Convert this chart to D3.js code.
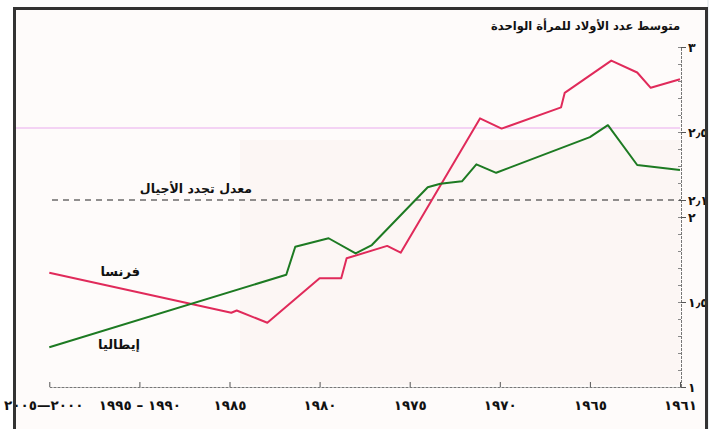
<!DOCTYPE html>
<html>
<head>
<meta charset="utf-8">
<script src="https://cdn.jsdelivr.net/npm/d3@7"></script>
<style>
  html, body { margin: 0; padding: 0; background: #fff; }
  svg { display: block; }
  text { font-family: "DejaVu Sans", sans-serif; }
</style>
</head>
<body>
<svg width="709" height="429"></svg>
<script>
// tick years on the x axis (right to left) and their labels
const tickYears = [1961, 1965, 1970, 1975, 1980, 1985, 1990, 2000];
const tickLabels = ['١٩٦١', '١٩٦٥', '١٩٧٠', '١٩٧٥', '١٩٨٠', '١٩٨٥', '١٩٩٠ – ١٩٩٥', '٢٠٠٠—٢٠٠٥'];

const yTicks = [1, 1.5, 2, 2.1, 2.5, 3];
const yLabels = ['١', '١٫٥', '٢', '٢٫١', '٢٫٥', '٣'];

// France: fertility rate by year
const franceYears = [1961, 1962.3, 1962.9, 1964.05, 1966.4, 1966.6, 1969.9, 1971.1, 1975.5, 1976.25, 1978.5, 1978.8, 1980, 1982.9, 1984.6, 1984.9, 2000];
const franceValues = [2.81, 2.76, 2.85, 2.92, 2.73, 2.645, 2.52, 2.58, 1.79, 1.83, 1.757, 1.64, 1.64, 1.378, 1.45, 1.437, 1.672];

// Italy
const italyYears = [1961, 1962.9, 1964.2, 1965, 1970.2, 1971.3, 1972.1, 1973.3, 1974, 1977.1, 1978, 1979.5, 1981.35, 1981.85, 2000];
const italyValues = [2.276, 2.306, 2.54, 2.47, 2.26, 2.31, 2.21, 2.196, 2.175, 1.835, 1.786, 1.875, 1.825, 1.66, 1.234];

const replacement = 2.1;

const svg = d3.select('svg');

// page + plot background
svg.append('rect').attr('width', 709).attr('height', 429).attr('fill', '#ffffff');
svg.append('rect').attr('x', 15).attr('y', 9).attr('width', 691).attr('height', 420).attr('fill', '#fefbfa');
svg.append('rect').attr('x', 240).attr('y', 140).attr('width', 440).attr('height', 245).attr('fill', '#fcf6f4');

// x is piecewise: every label gets the same width, whatever the years between
const x = d3.scaleLinear()
  .domain(tickYears)
  .range(tickYears.map((d, i) => 680 - i * 90.1));

const y = d3.scaleLinear().domain([1, 3]).range([387, 47]);

// faint pink stripe that runs across the scan
svg.append('line')
  .attr('x1', 15).attr('x2', 680)
  .attr('y1', 128).attr('y2', 128)
  .attr('stroke', '#e9a3ee').attr('stroke-width', 1.5).attr('opacity', 0.6);

// x axis
const xAxis = svg.append('g')
  .attr('transform', `translate(0,${y(1)})`)
  .call(d3.axisBottom(x)
    .tickValues(tickYears)
    .tickSizeInner(-5)
    .tickSizeOuter(0)
    .tickPadding(18)
    .tickFormat((d, i) => tickLabels[i]));
xAxis.select('.domain').attr('stroke', '#777').attr('stroke-dasharray', '3,1');
xAxis.selectAll('.tick line').attr('stroke', '#555');
xAxis.selectAll('.tick text')
  .attr('fill', '#111')
  .attr('font-size', 13.5)
  .attr('font-weight', 'bold')
  .attr('direction', 'rtl')
  .attr('dy', '0.35em');
// the last label runs off the left edge of the page
xAxis.selectAll('.tick text').filter(d => d === 2000).attr('dx', -6);

// y axis: minor ticks to the left, major ticks + labels to the right
const minor = d3.range(10, 31).map(d => d / 10);
const yMinor = svg.append('g')
  .attr('transform', `translate(681,0)`)
  .call(d3.axisLeft(y).tickValues(minor).tickSize(3).tickFormat(''));
yMinor.select('.domain').attr('stroke', '#777').attr('stroke-dasharray', '3,1');
yMinor.selectAll('.tick line').attr('stroke', '#888');

const yAxis = svg.append('g')
  .attr('transform', `translate(681,0)`)
  .call(d3.axisRight(y)
    .tickValues(yTicks)
    .tickSizeInner(5)
    .tickSizeOuter(0)
    .tickPadding(2)
    .tickFormat((d, i) => yLabels[i]));
yAxis.select('.domain').remove();
yAxis.selectAll('.tick line').attr('stroke', '#555');
yAxis.selectAll('.tick text')
  .attr('fill', '#111')
  .attr('font-size', 12.5)
  .attr('font-weight', 'bold');

// replacement level
svg.append('line')
  .attr('x1', 52).attr('x2', 681)
  .attr('y1', y(replacement)).attr('y2', y(replacement))
  .attr('stroke', '#222').attr('stroke-width', 1)
  .attr('stroke-dasharray', '6,5');

svg.append('text')
  .attr('x', 252).attr('y', y(replacement) - 7)
  .attr('text-anchor', 'start')
  .attr('direction', 'rtl')
  .attr('font-size', 12.5)
  .attr('font-weight', 'bold')
  .attr('fill', '#111')
  .text('معدل تجدد الأجيال');

// series lines
const line = d3.line()
  .x(d => x(d[0]))
  .y(d => y(d[1]));

svg.append('path')
  .datum(franceYears.map((d, i) => [d, franceValues[i]]))
  .attr('d', line)
  .attr('fill', 'none')
  .attr('stroke', '#e02a5a')
  .attr('stroke-width', 2)
  .attr('stroke-linejoin', 'round');

svg.append('path')
  .datum(italyYears.map((d, i) => [d, italyValues[i]]))
  .attr('d', line)
  .attr('fill', 'none')
  .attr('stroke', '#1d7a22')
  .attr('stroke-width', 2)
  .attr('stroke-linejoin', 'round');

// series labels
svg.append('text')
  .attr('x', 140).attr('y', 276)
  .attr('text-anchor', 'start')
  .attr('direction', 'rtl')
  .attr('font-size', 13)
  .attr('font-weight', 'bold')
  .attr('fill', '#111')
  .text('فرنسا');

svg.append('text')
  .attr('x', 140).attr('y', 349)
  .attr('text-anchor', 'start')
  .attr('direction', 'rtl')
  .attr('font-size', 13)
  .attr('font-weight', 'bold')
  .attr('fill', '#111')
  .text('إيطاليا');

// title
svg.append('text')
  .attr('x', 680).attr('y', 30)
  .attr('text-anchor', 'start')
  .attr('direction', 'rtl')
  .attr('font-size', 11.5)
  .attr('font-weight', 'bold')
  .attr('fill', '#111')
  .text('متوسط عدد الأولاد للمرأة الواحدة');

// frame of the scanned page
svg.append('rect').attr('x', 707).attr('y', 0).attr('width', 2).attr('height', 429).attr('fill', '#eef2f4');
svg.append('path')
  .attr('d', 'M14.5,429 V8.5 H706.5 V429')
  .attr('fill', 'none')
  .attr('stroke', '#333')
  .attr('stroke-width', 3);
</script>
</body>
</html>
